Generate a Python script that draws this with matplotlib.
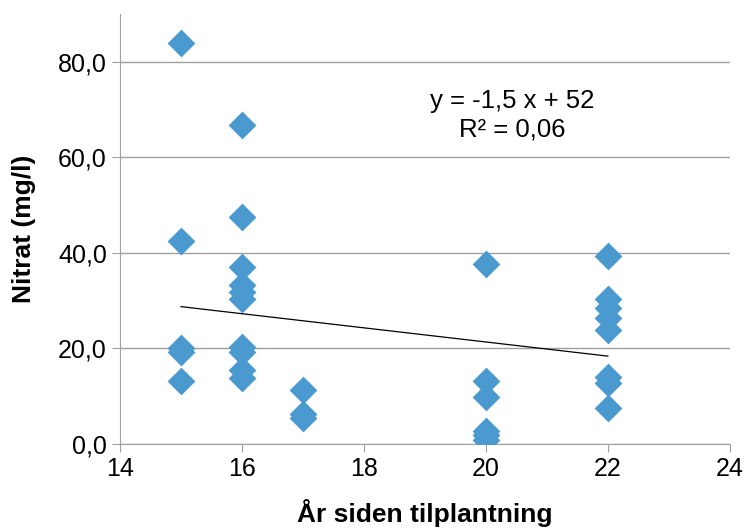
import numpy as np
import matplotlib.pyplot as plt

# Nitrat vs år siden tilplantning
aar = [15, 15, 15, 15, 15,
       16, 16, 16, 16, 16, 16, 16, 16, 16, 16,
       17, 17, 17,
       20, 20, 20, 20, 20, 20,
       22, 22, 22, 22, 22, 22, 22, 22]
nitrat = [84.0, 42.4, 20.0, 19.3, 13.1,
          66.8, 47.5, 37.1, 33.2, 31.8, 30.4, 20.4, 19.2, 15.4, 13.8,
          11.3, 6.3, 5.5,
          37.7, 13.2, 9.9, 2.7, 1.8, 0.8,
          39.4, 30.4, 28.5, 26.4, 23.8, 14.0, 12.8, 7.5]

# trendline as drawn in the original chart
trend_k = -1.48
trend_m = 50.95

xticks = [14, 16, 18, 20, 22, 24]
yticks = [0, 20, 40, 60, 80]

fig = plt.figure(figsize=(7.47, 5.30), dpi=100)
ax = fig.add_axes([0.1606, 0.1623, 0.8164, 0.8113])

ax.scatter(aar, nitrat, marker='D', s=200, color='#4A9AD0', zorder=3, linewidths=0)

xl = np.array([min(aar), max(aar)])
ax.plot(xl, trend_k * xl + trend_m, color='black', lw=0.9, zorder=2)

ax.text(0.643, 0.765, 'y = -1,5 x + 52\nR² = 0,06', transform=ax.transAxes,
        ha='center', va='center', fontsize=18.5, family='Liberation Sans', linespacing=1.25)

ax.set_xlim(14, 24)
ax.set_ylim(0, 90)
ax.set_xticks(xticks)
ax.set_yticks(yticks)
ax.set_yticklabels([f'{v:.1f}'.replace('.', ',') for v in yticks])
ax.yaxis.grid(True, color='#A0A0A0', lw=1)
ax.set_axisbelow(True)

for s in ['top', 'right']:
    ax.spines[s].set_visible(False)
for s in ['left', 'bottom']:
    ax.spines[s].set_color('#A0A0A0')
ax.tick_params(axis='both', colors='#A0A0A0', labelcolor='black', labelsize=18, length=6)
for lbl in ax.get_xticklabels() + ax.get_yticklabels():
    lbl.set_family('Liberation Sans')

ax.set_xlabel('År siden tilplantning', fontsize=19, fontweight='bold', family='Liberation Sans', labelpad=13)
ax.set_ylabel('Nitrat (mg/l)', fontsize=19, fontweight='bold', family='Liberation Sans', labelpad=16)

fig.savefig('out.png', dpi=100)
